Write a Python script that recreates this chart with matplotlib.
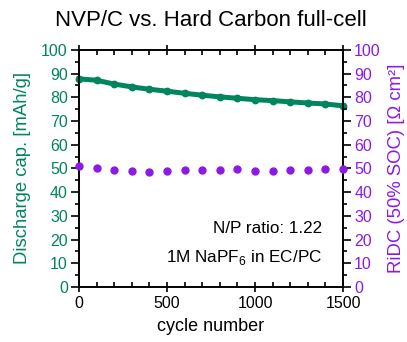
import matplotlib
matplotlib.use("Agg")
import matplotlib.pyplot as plt
from matplotlib.ticker import MultipleLocator

plt.rcParams['font.family'] = ['Liberation Sans', 'DejaVu Sans']
plt.rcParams['mathtext.fontset'] = 'custom'
plt.rcParams['mathtext.rm'] = 'Liberation Sans'

cycles = [0, 100, 200, 300, 400, 500, 600, 700, 800, 900, 1000, 1100, 1200, 1300, 1400, 1500]
capacity = [87.8, 87.2, 85.6, 84.4, 83.4, 82.6, 81.7, 80.9, 80.2, 79.6, 79.0, 78.6, 78.1, 77.6, 77.2, 76.4]
ridc = [51.0, 50.1, 49.4, 49.1, 48.7, 48.8, 49.4, 49.4, 49.4, 49.7, 49.1, 49.1, 49.4, 49.5, 49.7, 49.8]

green = '#00855F'
purple = '#8C1AE6'

fig = plt.figure(figsize=(4.07, 3.42), dpi=100)
ax = fig.add_axes([0.194, 0.161, 0.649, 0.693])
ax2 = ax.twinx()

ax.plot(cycles, capacity, color=green, lw=3.6, marker='o', ms=4.6, zorder=3, clip_on=False)
ax2.plot(cycles, ridc, color=purple, lw=0, marker='o', ms=5, clip_on=False, zorder=3)

ax.set_xlim(0, 1500)
ax.set_ylim(0, 100)
ax2.set_ylim(0, 100)

ax.xaxis.set_major_locator(MultipleLocator(500))
ax.xaxis.set_minor_locator(MultipleLocator(100))
for a in (ax, ax2):
    a.yaxis.set_major_locator(MultipleLocator(10))
    a.yaxis.set_minor_locator(MultipleLocator(5))

ax.tick_params(axis='x', which='major', direction='inout', length=7, width=1.2, top=True, labelsize=11.5, pad=3)
ax.tick_params(axis='x', which='minor', direction='in', length=3.5, width=1.2, top=True)
ax.tick_params(axis='y', which='major', direction='out', length=6, width=1.2, labelsize=11.5, labelcolor=green, pad=2)
ax.tick_params(axis='y', which='minor', direction='out', length=3, width=1.2)
ax2.tick_params(axis='y', which='major', direction='out', length=6, width=1.2, labelsize=11.5, labelcolor=purple, pad=2)
ax2.tick_params(axis='y', which='minor', direction='out', length=3, width=1.2)

for a in (ax, ax2):
    for s in a.spines.values():
        s.set_linewidth(1.2)

ax.set_xlabel('cycle number', fontsize=13, labelpad=5)
ax.set_ylabel('Discharge cap. [mAh/g]', fontsize=13.3, color=green, labelpad=7)
ax2.set_ylabel('RiDC (50% SOC) [Ω cm²]', fontsize=13.3, color=purple, labelpad=5)
ax.set_title('NVP/C vs. Hard Carbon full-cell', fontsize=16, pad=17)

ax.text(0.92, 0.245, 'N/P ratio: 1.22', transform=ax.transAxes, ha='right', va='center', fontsize=12.3)
ax.text(0.92, 0.125, '1M NaPF$_6$ in EC/PC', transform=ax.transAxes, ha='right', va='center', fontsize=12.3)

fig.savefig('out.png', dpi=100)
